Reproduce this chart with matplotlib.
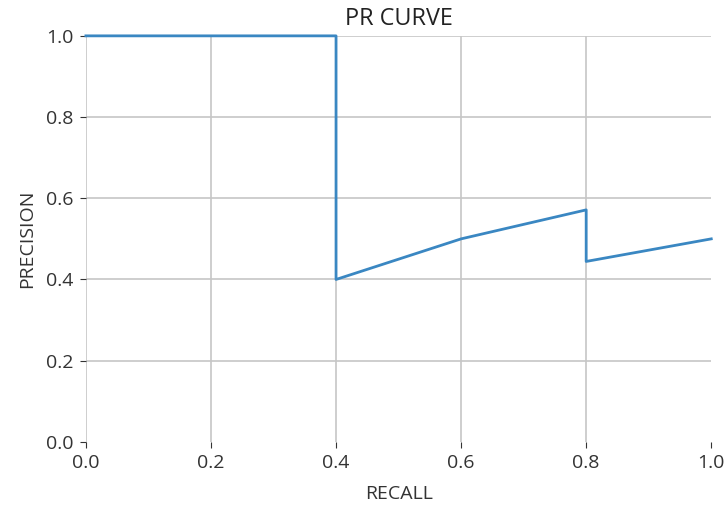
import matplotlib
matplotlib.use("Agg")
import matplotlib.pyplot as plt

plt.rcParams["font.family"] = ["Open Sans", "DejaVu Sans"]
plt.rcParams["font.size"] = 14

# Precision-recall points (step curve)
recall = [0.0, 0.4, 0.4, 0.6, 0.8, 0.8, 1.0]
precision = [1.0, 1.0, 0.4, 0.5, 0.5714, 0.4444, 0.5]
ticks = [0.0, 0.2, 0.4, 0.6, 0.8, 1.0]

fig = plt.figure(figsize=(7.28, 5.05), dpi=100)
ax = fig.add_axes([0.118, 0.125, 0.859, 0.804])
ax.plot(recall, precision, color="#3a87c2", linewidth=2, clip_on=False, zorder=3)
ax.set_xlim(0, 1)
ax.set_ylim(0, 1)
ax.set_xticks(ticks)
ax.set_yticks(ticks)
ax.grid(True, color="#c6c6c6", linewidth=1.2)
ax.set_axisbelow(True)
ax.yaxis.get_gridlines()[0].set_visible(False)
ax.xaxis.get_gridlines()[-1].set_visible(False)
for s in ax.spines.values():
    s.set_visible(False)
ax.tick_params(colors="#333333", length=4, labelcolor="#333333")
ax.tick_params(axis="y", pad=5)
ax.tick_params(axis="x", pad=5)
ax.set_title("PR CURVE", color="#222222", pad=8)
ax.set_xlabel("RECALL", color="#333333", labelpad=9)
ax.set_ylabel("PRECISION", color="#333333", labelpad=7)
fig.savefig("out.png", dpi=100)
